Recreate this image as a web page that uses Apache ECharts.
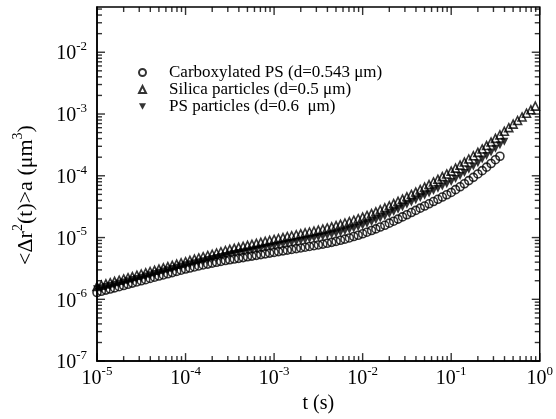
<!DOCTYPE html>
<html>
<head>
<meta charset="utf-8">
<script src="https://cdn.jsdelivr.net/npm/echarts@6/dist/echarts.min.js"></script>
<style>
  html, body { margin: 0; padding: 0; background: #fff; }
  #chart { width: 556px; height: 419px; }
</style>
</head>
<body>
<div id="chart"></div>
<script>
// Lag times (s), shared by all three particle sets
const lagTimes = [
  1.00e-5,1.12e-5,1.26e-5,1.41e-5,1.58e-5,1.78e-5,2.00e-5,2.24e-5,2.51e-5,2.82e-5,
  3.16e-5,3.55e-5,3.98e-5,4.47e-5,5.01e-5,5.62e-5,6.31e-5,7.08e-5,7.94e-5,8.91e-5,
  1.00e-4,1.12e-4,1.26e-4,1.41e-4,1.58e-4,1.78e-4,2.00e-4,2.24e-4,2.51e-4,2.82e-4,
  3.16e-4,3.55e-4,3.98e-4,4.47e-4,5.01e-4,5.62e-4,6.31e-4,7.08e-4,7.94e-4,8.91e-4,
  1.00e-3,1.12e-3,1.26e-3,1.41e-3,1.58e-3,1.78e-3,2.00e-3,2.24e-3,2.51e-3,2.82e-3,
  3.16e-3,3.55e-3,3.98e-3,4.47e-3,5.01e-3,5.62e-3,6.31e-3,7.08e-3,7.94e-3,8.91e-3,
  1.00e-2,1.12e-2,1.26e-2,1.41e-2,1.58e-2,1.78e-2,2.00e-2,2.24e-2,2.51e-2,2.82e-2,
  3.16e-2,3.55e-2,3.98e-2,4.47e-2,5.01e-2,5.62e-2,6.31e-2,7.08e-2,7.94e-2,8.91e-2,
  1.00e-1,1.12e-1,1.26e-1,1.41e-1,1.58e-1,1.78e-1,2.00e-1,2.24e-1,2.51e-1,2.82e-1,
  3.16e-1,3.55e-1,3.98e-1,4.47e-1,5.01e-1,5.62e-1,6.31e-1,7.08e-1,7.94e-1,8.91e-1
];

// <Δr²(t)>a (μm³), carboxylated PS, d = 0.543 μm
const carboxylatedPS = [
  1.29e-6,1.35e-6,1.41e-6,1.47e-6,1.53e-6,1.60e-6,1.67e-6,1.75e-6,1.83e-6,1.91e-6,
  2.00e-6,2.08e-6,2.18e-6,2.28e-6,2.38e-6,2.48e-6,2.59e-6,2.71e-6,2.83e-6,2.96e-6,
  3.09e-6,3.21e-6,3.34e-6,3.47e-6,3.60e-6,3.72e-6,3.85e-6,3.98e-6,4.11e-6,4.24e-6,
  4.37e-6,4.49e-6,4.61e-6,4.74e-6,4.88e-6,5.01e-6,5.15e-6,5.30e-6,5.44e-6,5.60e-6,
  5.75e-6,5.92e-6,6.08e-6,6.25e-6,6.43e-6,6.61e-6,6.79e-6,6.98e-6,7.18e-6,7.38e-6,
  7.59e-6,7.82e-6,8.07e-6,8.36e-6,8.67e-6,9.02e-6,9.42e-6,9.86e-6,1.04e-5,1.09e-5,
  1.15e-5,1.22e-5,1.30e-5,1.38e-5,1.48e-5,1.58e-5,1.71e-5,1.84e-5,1.99e-5,2.16e-5,
  2.34e-5,2.54e-5,2.75e-5,2.99e-5,3.24e-5,3.52e-5,3.83e-5,4.16e-5,4.53e-5,4.93e-5,
  5.37e-5,5.96e-5,6.64e-5,7.43e-5,8.36e-5,9.44e-5,1.07e-4,1.21e-4,1.38e-4,1.58e-4,
  1.82e-4,2.07e-4
];

// silica particles, d = 0.5 μm
const silicaParticles = [
  1.62e-6,1.70e-6,1.78e-6,1.86e-6,1.95e-6,2.04e-6,2.14e-6,2.24e-6,2.34e-6,2.46e-6,
  2.57e-6,2.69e-6,2.82e-6,2.95e-6,3.09e-6,3.24e-6,3.39e-6,3.55e-6,3.72e-6,3.89e-6,
  4.07e-6,4.27e-6,4.47e-6,4.68e-6,4.90e-6,5.13e-6,5.37e-6,5.62e-6,5.89e-6,6.17e-6,
  6.46e-6,6.70e-6,6.95e-6,7.21e-6,7.48e-6,7.76e-6,8.05e-6,8.36e-6,8.67e-6,8.99e-6,
  9.33e-6,9.66e-6,1.00e-5,1.04e-5,1.07e-5,1.11e-5,1.15e-5,1.19e-5,1.23e-5,1.27e-5,
  1.32e-5,1.37e-5,1.43e-5,1.49e-5,1.56e-5,1.64e-5,1.72e-5,1.81e-5,1.91e-5,2.02e-5,
  2.14e-5,2.28e-5,2.44e-5,2.61e-5,2.81e-5,3.02e-5,3.27e-5,3.54e-5,3.85e-5,4.19e-5,
  4.57e-5,4.99e-5,5.46e-5,5.98e-5,6.56e-5,7.21e-5,7.94e-5,8.77e-5,9.68e-5,1.07e-4,
  1.19e-4,1.33e-4,1.49e-4,1.67e-4,1.87e-4,2.11e-4,2.39e-4,2.72e-4,3.09e-4,3.52e-4,
  4.03e-4,4.60e-4,5.26e-4,6.01e-4,6.87e-4,7.85e-4,8.97e-4,1.03e-3,1.17e-3,1.34e-3
];

// PS particles, d = 0.6 μm
const psParticles = [
  1.45e-6,1.51e-6,1.58e-6,1.65e-6,1.72e-6,1.80e-6,1.88e-6,1.96e-6,2.05e-6,2.14e-6,
  2.24e-6,2.34e-6,2.46e-6,2.57e-6,2.69e-6,2.82e-6,2.95e-6,3.09e-6,3.24e-6,3.39e-6,
  3.55e-6,3.69e-6,3.84e-6,3.99e-6,4.15e-6,4.32e-6,4.49e-6,4.67e-6,4.85e-6,5.05e-6,
  5.25e-6,5.42e-6,5.60e-6,5.78e-6,5.97e-6,6.17e-6,6.37e-6,6.58e-6,6.79e-6,7.01e-6,
  7.24e-6,7.48e-6,7.73e-6,7.98e-6,8.24e-6,8.51e-6,8.79e-6,9.08e-6,9.38e-6,9.68e-6,
  1.00e-5,1.03e-5,1.07e-5,1.11e-5,1.15e-5,1.20e-5,1.26e-5,1.32e-5,1.39e-5,1.47e-5,
  1.55e-5,1.65e-5,1.77e-5,1.90e-5,2.04e-5,2.20e-5,2.39e-5,2.59e-5,2.82e-5,3.09e-5,
  3.39e-5,3.69e-5,4.02e-5,4.38e-5,4.76e-5,5.19e-5,5.65e-5,6.15e-5,6.70e-5,7.29e-5,
  7.94e-5,8.85e-5,9.89e-5,1.11e-4,1.25e-4,1.41e-4,1.60e-4,1.83e-4,2.09e-4,2.39e-4,
  2.75e-4,3.13e-4,3.55e-4
];

const seriesNames = [
  'Carboxylated PS (d=0.543 μm)',
  'Silica particles (d=0.5 μm)',
  'PS particles (d=0.6  μm)'
];

// Axis ranges and labelled decades
const xMin = 1e-5, xMax = 1;
const yMin = 1e-7, yMax = 0.054;
const xMajorTicks = [1e-5, 1e-4, 1e-3, 1e-2, 1e-1, 1];
const yMajorTicks = [1e-7, 1e-6, 1e-5, 1e-4, 1e-3, 1e-2];

// 2..9 sub-decade tick positions inside an axis range
function minorTicks(lo, hi) {
  const out = [];
  for (let e = Math.floor(Math.log10(lo)); e < Math.ceil(Math.log10(hi)); e++) {
    for (let m = 2; m <= 9; m++) {
      const v = m * Math.pow(10, e);
      if (v > lo && v < hi) out.push(v);
    }
  }
  return out;
}
const xMinorTicks = minorTicks(xMin, xMax);
const yMinorTicks = minorTicks(yMin, yMax);

const FONT = '"Liberation Serif", "Times New Roman", serif';
const MAJOR_LEN = 8, MINOR_LEN = 5, TICK_W = 1.4;

const powRich = {
  b: { fontFamily: FONT, fontSize: 20, color: '#000', lineHeight: 24, verticalAlign: 'bottom' },
  s: { fontFamily: FONT, fontSize: 13, color: '#000', lineHeight: 24, verticalAlign: 'top' }
};
function powLabel(v) {
  const e = Math.round(Math.log10(v));
  return '{b|10}{s|' + e + '}';
}

function pairs(ys) {
  return ys.map((y, i) => [lagTimes[i], y]);
}

const hollow = { color: 'transparent', borderColor: '#000', borderWidth: 1.6 };
const downTriangle = 'path://M0,0L10,0L5,9Z';

// Inward frame ticks, drawn as thin bars anchored on the frame edges
function tickMarks(points, size, offset) {
  return {
    type: 'scatter',
    silent: true,
    clip: false,
    z: 5,
    symbol: 'rect',
    symbolSize: size,
    symbolOffset: offset,
    itemStyle: { color: '#000', borderWidth: 0 },
    emphasis: { disabled: true },
    data: points
  };
}
const tickSeries = [
  // bottom and top edges
  tickMarks(xMajorTicks.map(v => [v, yMin]), [TICK_W, MAJOR_LEN], [0, -MAJOR_LEN / 2]),
  tickMarks(xMinorTicks.map(v => [v, yMin]), [TICK_W, MINOR_LEN], [0, -MINOR_LEN / 2]),
  tickMarks(xMajorTicks.map(v => [v, yMax]), [TICK_W, MAJOR_LEN], [0, MAJOR_LEN / 2]),
  tickMarks(xMinorTicks.map(v => [v, yMax]), [TICK_W, MINOR_LEN], [0, MINOR_LEN / 2]),
  // left and right edges
  tickMarks(yMajorTicks.map(v => [xMin, v]), [MAJOR_LEN, TICK_W], [MAJOR_LEN / 2, 0]),
  tickMarks(yMinorTicks.map(v => [xMin, v]), [MINOR_LEN, TICK_W], [MINOR_LEN / 2, 0]),
  tickMarks(yMajorTicks.map(v => [xMax, v]), [MAJOR_LEN, TICK_W], [-MAJOR_LEN / 2, 0]),
  tickMarks(yMinorTicks.map(v => [xMax, v]), [MINOR_LEN, TICK_W], [-MINOR_LEN / 2, 0])
];

const option = {
  backgroundColor: '#fff',
  animation: false,
  grid: {
    left: 97, right: 16, top: 7, bottom: 57,
    show: true, borderColor: '#000', borderWidth: 1.5, backgroundColor: 'transparent'
  },
  legend: {
    orient: 'vertical',
    left: 138,
    top: 64,
    padding: 0,
    itemGap: 0,
    itemWidth: 7,
    itemHeight: 7,
    textStyle: { fontFamily: FONT, fontSize: 17, color: '#000', lineHeight: 17, padding: [0, 0, 0, 18] },
    data: seriesNames
  },
  graphic: {
    elements: [{
      type: 'text',
      x: 24,
      y: 195,
      rotation: Math.PI / 2,
      style: {
        text: '{n|<Δr}{s|2}{n|(t)>a (μm}{s|3}{n|)}',
        align: 'center',
        verticalAlign: 'middle',
        rich: {
          n: { fontFamily: FONT, fontSize: 22, fill: '#000', lineHeight: 26, verticalAlign: 'bottom' },
          s: { fontFamily: FONT, fontSize: 14, fill: '#000', lineHeight: 26, verticalAlign: 'top' }
        }
      }
    }]
  },
  xAxis: {
    type: 'log',
    min: xMin,
    max: xMax,
    name: 't (s)',
    nameLocation: 'middle',
    nameGap: 28,
    nameTextStyle: { fontFamily: FONT, fontSize: 20, color: '#000' },
    axisLine: { show: true, lineStyle: { color: '#000', width: 1.5 } },
    axisTick: { show: false },
    axisLabel: { customValues: xMajorTicks, formatter: powLabel, margin: 4, rich: powRich },
    splitLine: { show: false }
  },
  yAxis: {
    type: 'log',
    min: yMin,
    max: yMax,
    axisLine: { show: true, lineStyle: { color: '#000', width: 1.5 } },
    axisTick: { show: false },
    axisLabel: { customValues: yMajorTicks, formatter: powLabel, margin: 10, rich: powRich },
    splitLine: { show: false }
  },
  series: [
    {
      name: seriesNames[0], type: 'scatter',
      symbol: 'circle', symbolSize: 8, itemStyle: hollow,
      data: pairs(carboxylatedPS)
    },
    {
      name: seriesNames[1], type: 'scatter',
      symbol: 'triangle', symbolSize: 8, itemStyle: hollow,
      data: pairs(silicaParticles)
    },
    {
      name: seriesNames[2], type: 'scatter',
      symbol: downTriangle, symbolSize: 8, itemStyle: { color: '#000', borderWidth: 0 },
      data: pairs(psParticles)
    }
  ].concat(tickSeries)
};

const chart = echarts.init(document.getElementById('chart'), null, { renderer: 'canvas' });
chart.setOption(option);
</script>
</body>
</html>
